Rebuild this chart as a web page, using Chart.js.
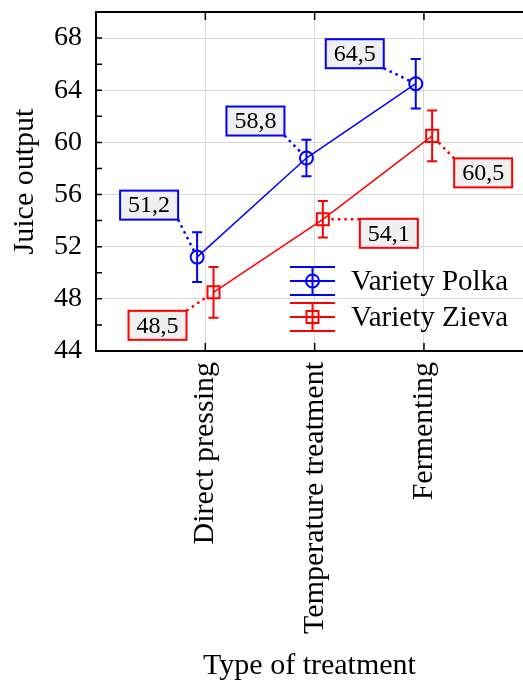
<!DOCTYPE html>
<html>
<head>
<meta charset="utf-8">
<title>Juice output</title>
<script src="https://cdn.jsdelivr.net/npm/chart.js@4.4.1/dist/chart.umd.min.js"></script>
<style>
    html, body { margin: 0; padding: 0; background: #fff; overflow: hidden; }
    #wrap { width: 523px; height: 681px; }
</style>
</head>
<body>
<div id="wrap"><canvas id="juiceChart" width="523" height="681"></canvas></div>
<script>
// Chart data
const categories = ['Direct pressing', 'Temperature treatment', 'Fermenting'];
const seriesNames = ['Variety Polka', 'Variety Zieva'];
const polkaValues = [51.2, 58.8, 64.5];
const polkaErrors = [1.9, 1.4, 1.9];
const zievaValues = [48.5, 54.1, 60.5];
const zievaErrors = [1.95, 1.4, 1.95];
const yLabelTicks = [44, 48, 52, 56, 60, 64, 68];

// Styling
const FONT = '"Liberation Serif", "Times New Roman", serif';
const BLUE = '#0000ff';
const RED = '#ff0000';
const GRID = '#d9d9d9';
const SERIES_SHIFT = 0.075;

// Where each value box sits relative to its marker (px)
const boxOffsets = [
    [[-48, -52], [-51, -37], [-61, -30]],
    [[-56, 33], [66, 14], [51, 37]]
];

function toPoints(values, shift) {
    return values.map((v, i) => ({ x: i + 1 + shift, y: v }));
}

function fmt(v) {
    return v.toFixed(1).replace('.', ',');
}

const overlayPlugin = {
    id: 'overlay',
    beforeDatasetsDraw(chart) {
        const ctx = chart.ctx;
        const y = chart.scales.y;
        chart.data.datasets.forEach((ds, di) => {
            const meta = chart.getDatasetMeta(di);
            ctx.save();
            ctx.strokeStyle = ds.borderColor;
            ctx.lineWidth = 2;
            meta.data.forEach((pt, i) => {
                const v = ds.data[i].y;
                const e = ds.errors[i];
                const top = y.getPixelForValue(v + e);
                const bot = y.getPixelForValue(v - e);
                ctx.beginPath();
                ctx.moveTo(pt.x, top); ctx.lineTo(pt.x, bot);
                ctx.moveTo(pt.x - 5, top); ctx.lineTo(pt.x + 5, top);
                ctx.moveTo(pt.x - 5, bot); ctx.lineTo(pt.x + 5, bot);
                ctx.stroke();
            });
            ctx.restore();
        });
    },
    afterDraw(chart) {
        const ctx = chart.ctx;
        const area = chart.chartArea;
        const x = chart.scales.x;
        const y = chart.scales.y;

        // frame top line and inner tick marks
        ctx.save();
        ctx.strokeStyle = '#000';
        ctx.lineWidth = 2;
        ctx.beginPath();
        ctx.moveTo(area.left - 1, area.top);
        ctx.lineTo(area.right, area.top);
        ctx.stroke();
        ctx.lineWidth = 1.5;
        ctx.beginPath();
        for (let v = 44; v <= 70; v += 2) {
            const py = y.getPixelForValue(v);
            ctx.moveTo(area.left, py);
            ctx.lineTo(area.left + 6, py);
        }
        categories.forEach((c, i) => {
            const px = x.getPixelForValue(i + 1);
            ctx.moveTo(px, area.top);
            ctx.lineTo(px, area.top + 8);
            ctx.moveTo(px, area.bottom);
            ctx.lineTo(px, area.bottom - 8);
        });
        ctx.stroke();
        ctx.restore();

        // value boxes with dotted leaders
        chart.data.datasets.forEach((ds, di) => {
            const meta = chart.getDatasetMeta(di);
            meta.data.forEach((pt, i) => {
                const off = boxOffsets[di][i];
                const cx = pt.x + off[0];
                const cy = pt.y + off[1];
                const w = 58, h = 29;
                const bx0 = cx - w / 2, by0 = cy - h / 2;
                const ax = Math.min(Math.max(pt.x, bx0), bx0 + w);
                const ay = Math.min(Math.max(pt.y, by0), by0 + h);
                const dx = pt.x - ax, dy = pt.y - ay;
                const len = Math.sqrt(dx * dx + dy * dy);
                const ex = pt.x - dx / len * 7, ey = pt.y - dy / len * 7;

                ctx.save();
                ctx.strokeStyle = ds.borderColor;
                ctx.lineWidth = 2.5;
                ctx.setLineDash([2.5, 4]);
                ctx.beginPath();
                ctx.moveTo(ax, ay);
                ctx.lineTo(ex, ey);
                ctx.stroke();
                ctx.setLineDash([]);
                ctx.fillStyle = '#f0f0f0';
                ctx.fillRect(bx0, by0, w, h);
                ctx.lineWidth = 2;
                ctx.strokeRect(bx0, by0, w, h);
                ctx.fillStyle = '#000';
                ctx.font = '24px ' + FONT;
                ctx.textAlign = 'center';
                ctx.textBaseline = 'middle';
                ctx.fillText(fmt(ds.data[i].y), cx, cy + 1);
                ctx.restore();
            });
        });

        // legend
        const legendRows = [{ y: 281, ds: chart.data.datasets[0] }, { y: 317, ds: chart.data.datasets[1] }];
        legendRows.forEach(row => {
            const x0 = 290, x1 = 335, mx = (x0 + x1) / 2;
            ctx.save();
            ctx.strokeStyle = row.ds.borderColor;
            ctx.lineWidth = 2;
            ctx.beginPath();
            ctx.moveTo(x0, row.y); ctx.lineTo(x1, row.y);
            ctx.moveTo(x0, row.y - 14); ctx.lineTo(x1, row.y - 14);
            ctx.moveTo(x0, row.y + 14); ctx.lineTo(x1, row.y + 14);
            ctx.moveTo(mx, row.y - 14); ctx.lineTo(mx, row.y + 14);
            ctx.stroke();
            ctx.beginPath();
            if (row.ds.pointStyle === 'circle') {
                ctx.arc(mx, row.y, 6.5, 0, Math.PI * 2);
            } else {
                ctx.rect(mx - 6, row.y - 6, 12, 12);
            }
            ctx.stroke();
            ctx.fillStyle = '#000';
            ctx.font = '29px ' + FONT;
            ctx.textAlign = 'left';
            ctx.textBaseline = 'middle';
            ctx.fillText(row.ds.label, 351, row.y + 1);
            ctx.restore();
        });
    }
};

new Chart(document.getElementById('juiceChart'), {
    type: 'line',
    data: {
        datasets: [
            {
                label: seriesNames[0],
                data: toPoints(polkaValues, -SERIES_SHIFT),
                errors: polkaErrors,
                borderColor: BLUE,
                borderWidth: 1.5,
                pointStyle: 'circle',
                pointRadius: 6.5,
                pointBorderWidth: 2,
                pointBorderColor: BLUE,
                pointBackgroundColor: 'rgba(0,0,0,0)',
                fill: false,
                tension: 0
            },
            {
                label: seriesNames[1],
                data: toPoints(zievaValues, SERIES_SHIFT),
                errors: zievaErrors,
                borderColor: RED,
                borderWidth: 1.5,
                pointStyle: 'rect',
                pointRadius: 8.5,
                pointBorderWidth: 2,
                pointBorderColor: RED,
                pointBackgroundColor: 'rgba(0,0,0,0)',
                fill: false,
                tension: 0
            }
        ]
    },
    options: {
        responsive: false,
        animation: false,
        layout: { autoPadding: false, padding: { top: 12, right: 0, bottom: 0, left: 0 } },
        plugins: {
            legend: { display: false },
            tooltip: { enabled: false }
        },
        scales: {
            x: {
                type: 'linear',
                min: 0,
                max: 3.906,
                afterBuildTicks: scale => {
                    scale.ticks = categories.map((c, i) => ({ value: i + 1 }));
                },
                afterFit: scale => {
                    scale.height = 330;
                    scale.paddingLeft = 0;
                    scale.paddingRight = 0;
                },
                ticks: {
                    autoSkip: false,
                    minRotation: 90,
                    maxRotation: 90,
                    padding: 11,
                    color: '#000',
                    font: { family: FONT, size: 30 },
                    callback: v => categories[v - 1]
                },
                grid: { color: GRID, lineWidth: 1, drawTicks: false },
                border: { display: true, color: '#000', width: 2 },
                title: {
                    display: true,
                    text: 'Type of treatment',
                    color: '#000',
                    font: { family: FONT, size: 30, lineHeight: 1 },
                    padding: 0
                }
            },
            y: {
                min: 44,
                max: 70,
                afterBuildTicks: scale => {
                    const t = [];
                    for (let v = 44; v <= 70; v += 2) t.push({ value: v });
                    scale.ticks = t;
                },
                afterFit: scale => {
                    scale.width = 96;
                    scale.paddingTop = 0;
                    scale.paddingBottom = 0;
                },
                ticks: {
                    padding: 14,
                    color: '#000',
                    font: { family: FONT, size: 28 },
                    callback: v => yLabelTicks.includes(v) ? String(v) : ''
                },
                grid: { color: GRID, lineWidth: 1, drawTicks: false },
                border: { display: true, color: '#000', width: 2 },
                title: {
                    display: true,
                    text: 'Juice output',
                    color: '#000',
                    font: { family: FONT, size: 30, lineHeight: 1 },
                    padding: { top: 10, bottom: 0 }
                }
            }
        }
    },
    plugins: [overlayPlugin]
});
</script>
</body>
</html>
